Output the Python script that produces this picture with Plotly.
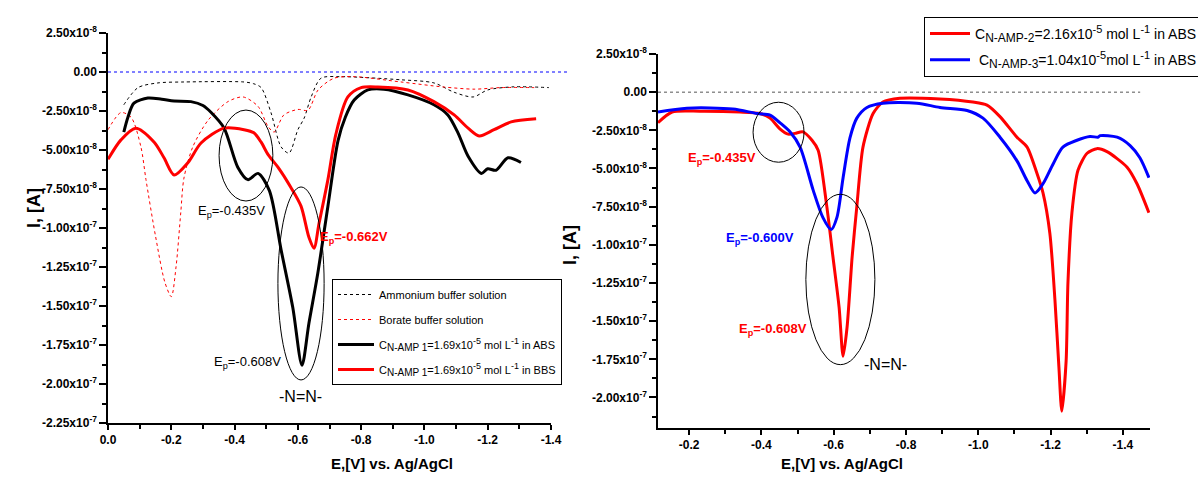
import plotly.graph_objects as go

# ---------------- Left panel data (I in units of 1e-8 A) ----------------
amm_E = [-0.05, -0.095, -0.158, -0.24, -0.43, -0.46, -0.484, -0.515, -0.547, -0.572, -0.60, -0.62,
         -0.642, -0.673, -0.736, -0.926, -1.03, -1.094, -1.154, -1.2, -1.283, -1.393]
amm_I = [-2.1, -1.0, -0.7, -0.64, -0.64, -0.75, -1.0, -2.6, -4.8, -5.2, -3.7, -2.95,
         -1.6, -0.4, -0.3, -0.5, -0.7, -1.3, -1.6, -1.15, -0.95, -1.0]

bor_E = [0.0, -0.041, -0.073, -0.104, -0.12, -0.15, -0.18, -0.20, -0.215, -0.23, -0.24, -0.268, -0.316,
         -0.379, -0.427, -0.474, -0.506, -0.525, -0.556, -0.60, -0.632, -0.664, -0.714, -0.778,
         -0.926, -1.06, -1.157, -1.24, -1.347]
bor_I = [-3.7, -2.6, -2.9, -4.8, -6.9, -10.5, -13.5, -14.4, -12.5, -9.0, -6.8, -4.8, -3.1,
         -1.9, -1.6, -2.2, -3.5, -3.85, -2.75, -2.4, -2.45, -1.15, -0.4, -0.3,
         -0.64, -0.96, -1.1, -1.0, -1.0]

abs1_E = [-0.05, -0.063, -0.082, -0.126, -0.17, -0.209, -0.262, -0.30, -0.326, -0.367, -0.41, -0.442,
          -0.474, -0.51, -0.547, -0.584, -0.613, -0.635, -0.663, -0.695, -0.727, -0.75, -0.778,
          -0.821, -0.872, -0.948, -1.03, -1.074, -1.106, -1.138, -1.18, -1.20, -1.226, -1.264, -1.305]
abs1_I = [-3.85, -2.9, -2.0, -1.67, -1.75, -1.86, -1.9, -2.15, -2.6, -3.6, -6.1, -6.9,
          -6.5, -7.6, -11.4, -15.1, -18.8, -16.1, -12.9, -8.6, -4.4, -2.9, -1.8,
          -1.15, -1.1, -1.47, -2.1, -2.75, -3.9, -5.4, -6.5, -6.2, -6.3, -5.5, -5.8]

bbs1_E = [0.0, -0.041, -0.088, -0.146, -0.177, -0.209, -0.253, -0.294, -0.367, -0.43, -0.461, -0.484,
          -0.506, -0.537, -0.578, -0.61, -0.635, -0.651, -0.667, -0.695, -0.72, -0.758, -0.80,
          -0.853, -0.948, -1.03, -1.094, -1.138, -1.173, -1.22, -1.274, -1.353]
bbs1_I = [-5.6, -4.35, -3.6, -4.5, -5.5, -6.6, -5.8, -4.55, -3.6, -3.7, -3.9, -4.5,
          -5.3, -6.1, -7.4, -8.6, -10.6, -11.3, -9.7, -6.9, -4.0, -1.6, -1.0,
          -0.96, -1.15, -1.9, -2.75, -3.6, -4.1, -3.7, -3.2, -3.0]

# ---------------- Right panel data (I in units of 1e-8 A) ----------------
amp2_E = [-0.114, -0.153, -0.23, -0.341, -0.396, -0.424, -0.451, -0.474, -0.493, -0.515, -0.54, -0.557,
          -0.581, -0.598, -0.615, -0.626, -0.637, -0.651, -0.664, -0.681, -0.709, -0.736, -0.783,
          -0.894, -0.985, -1.024, -1.06, -1.107, -1.135, -1.162, -1.179, -1.198, -1.212, -1.223,
          -1.231, -1.243, -1.248, -1.259, -1.276, -1.301, -1.328, -1.356, -1.411, -1.439, -1.472]
amp2_I = [-2.0, -1.3, -1.25, -1.3, -1.4, -1.7, -2.4, -2.75, -2.7, -2.6, -3.15, -3.8,
          -7.5, -10.8, -14.1, -17.3, -15.4, -10.8, -7.5, -3.6, -1.4, -0.65, -0.4,
          -0.45, -0.65, -0.85, -1.6, -2.95, -3.6, -5.3, -6.6, -9.25, -13.6, -18.0,
          -20.9, -17.6, -12.5, -7.9, -5.1, -4.0, -3.7, -3.9, -4.9, -6.0, -7.9]

amp3_E = [-0.114, -0.194, -0.321, -0.388, -0.424, -0.451, -0.479, -0.507, -0.543, -0.57, -0.593,
          -0.609, -0.626, -0.645, -0.664, -0.692, -0.736, -0.83, -0.894, -0.969, -1.013, -1.06,
          -1.107, -1.135, -1.157, -1.179, -1.207, -1.234, -1.273, -1.309, -1.331, -1.337, -1.384,
          -1.42, -1.447, -1.472]
amp3_I = [-1.3, -1.05, -1.1, -1.4, -1.5, -2.0, -2.6, -3.6, -6.4, -8.2, -9.0,
          -8.2, -5.6, -3.0, -1.7, -1.0, -0.72, -0.72, -1.0, -1.2, -1.7, -2.95,
          -4.5, -5.8, -6.6, -6.0, -4.7, -3.6, -3.15, -2.9, -2.95, -2.85, -2.95,
          -3.5, -4.3, -5.6]

SCALE = 1e-8

# tick labels
x_left_ticks = [0.0, -0.2, -0.4, -0.6, -0.8, -1.0, -1.2, -1.4]
x_left_text = ["0.0", "-0.2", "-0.4", "-0.6", "-0.8", "-1.0", "-1.2", "-1.4"]
x_right_ticks = [-0.2, -0.4, -0.6, -0.8, -1.0, -1.2, -1.4]
x_right_text = ["-0.2", "-0.4", "-0.6", "-0.8", "-1.0", "-1.2", "-1.4"]
y_ticks = [2.5e-8, 0.0, -2.5e-8, -5.0e-8, -7.5e-8, -1.0e-7, -1.25e-7, -1.5e-7, -1.75e-7, -2.0e-7, -2.25e-7]
y_text = ["2.50x10<sup>-8</sup>", "0.00", "-2.50x10<sup>-8</sup>", "-5.00x10<sup>-8</sup>",
          "-7.50x10<sup>-8</sup>", "-1.00x10<sup>-7</sup>", "-1.25x10<sup>-7</sup>",
          "-1.50x10<sup>-7</sup>", "-1.75x10<sup>-7</sup>", "-2.00x10<sup>-7</sup>", "-2.25x10<sup>-7</sup>"]

FONT = "Arial, 'Liberation Sans', sans-serif"
W, H = 1198, 483


def big_sub(t, px):
    return "<sub><span style='font-size:%dpx'>%s</span></sub>" % (px, t)


def big_sup(t, px):
    return "<sup><span style='font-size:%dpx'>%s</span></sup>" % (px, t)


name_abs1 = "C" + big_sub("N-AMP 1", 10) + "=1.69x10" + big_sup("-5", 9) + " mol L" + big_sup("-1", 9) + " in ABS"
name_bbs1 = "C" + big_sub("N-AMP 1", 10) + "=1.69x10" + big_sup("-5", 9) + " mol L" + big_sup("-1", 9) + " in BBS"
name_amp2 = "C" + big_sub("N-AMP-2", 12) + "=2.16x10" + big_sup("-5", 11) + " mol L" + big_sup("-1", 11) + " in ABS"
name_amp3 = " C" + big_sub("N-AMP-3", 12) + "=1.04x10" + big_sup("-5", 11) + "mol L" + big_sup("-1", 11) + " in ABS"

fig = go.Figure()


def sc(v):
    return [a * SCALE for a in v]


fig.add_trace(go.Scatter(x=amm_E, y=sc(amm_I), mode="lines", name="Ammonium buffer solution",
                         line=dict(color="black", width=1, dash="dot", shape="spline", smoothing=0.8),
                         xaxis="x", yaxis="y", legend="legend", legendgroup="a"))
fig.add_trace(go.Scatter(x=bor_E, y=sc(bor_I), mode="lines", name="Borate buffer solution",
                         line=dict(color="red", width=1, dash="dot", shape="spline", smoothing=0.8),
                         xaxis="x", yaxis="y", legend="legend", legendgroup="b"))
fig.add_trace(go.Scatter(x=abs1_E, y=sc(abs1_I), mode="lines", name=name_abs1,
                         line=dict(color="black", width=3, shape="spline", smoothing=0.8),
                         xaxis="x", yaxis="y", legend="legend", legendgroup="c"))
fig.add_trace(go.Scatter(x=bbs1_E, y=sc(bbs1_I), mode="lines", name=name_bbs1,
                         line=dict(color="red", width=3, shape="spline", smoothing=0.8),
                         xaxis="x", yaxis="y", legend="legend", legendgroup="d"))

fig.add_trace(go.Scatter(x=amp2_E, y=sc(amp2_I), mode="lines", name=name_amp2,
                         line=dict(color="red", width=3, shape="spline", smoothing=0.7),
                         xaxis="x2", yaxis="y2", legend="legend2", legendgroup="e"))
fig.add_trace(go.Scatter(x=amp3_E, y=sc(amp3_I), mode="lines", name=name_amp3,
                         line=dict(color="blue", width=3, shape="spline", smoothing=0.8),
                         xaxis="x2", yaxis="y2", legend="legend2", legendgroup="f"))

axis_common = dict(showgrid=False, zeroline=False, showline=True, linecolor="black", linewidth=1.5,
                   ticks="outside", tickcolor="black", tickwidth=1.5,
                   tickfont=dict(family=FONT, size=12, color="black", weight="bold"))
minor_x = dict(tickmode="linear", tick0=0, dtick=0.1, ticks="outside", ticklen=4,
               tickcolor="black", tickwidth=1.5)
minor_y = dict(tickmode="linear", tick0=0, dtick=1.25e-8, ticks="outside", ticklen=4,
               tickcolor="black", tickwidth=1.5)

fig.update_layout(
    width=W, height=H, margin=dict(l=0, r=0, t=0, b=0, autoexpand=False),
    paper_bgcolor="white", plot_bgcolor="white", showlegend=True,
    xaxis=dict(domain=[108 / W, 551 / W], range=[0, -1.4], anchor="y",
               tickmode="array", tickvals=x_left_ticks, ticktext=x_left_text, ticklen=5,
               minor=minor_x, **axis_common),
    yaxis=dict(domain=[1 - 423 / H, 1 - 33 / H], range=[-2.25e-7, 2.5e-8], anchor="x",
               tickmode="array", tickvals=y_ticks, ticktext=y_text, ticklen=7,
               minor=minor_y, **axis_common),
    xaxis2=dict(domain=[658 / W, 1150 / W], range=[-0.114, -1.475], anchor="y2",
                tickmode="array", tickvals=x_right_ticks, ticktext=x_right_text, ticklen=5,
                minor=minor_x, **axis_common),
    yaxis2=dict(domain=[1 - 428 / H, 1 - 54 / H], range=[-2.2e-7, 2.5e-8], anchor="x2",
                tickmode="array", tickvals=y_ticks[:-1], ticktext=y_text[:-1], ticklen=7,
                minor=minor_y, **axis_common),
    legend=dict(x=332 / W, y=1 - 279 / H, xanchor="left", yanchor="top",
                bordercolor="black", borderwidth=1, bgcolor="white",
                font=dict(family=FONT, size=11, color="black"),
                tracegroupgap=6, itemwidth=36),
    legend2=dict(x=924 / W, y=1 - 17 / H, xanchor="left", yanchor="top",
                 bordercolor="black", borderwidth=1, bgcolor="white",
                 font=dict(family=FONT, size=14, color="black"),
                 tracegroupgap=5, itemwidth=40),
)

# zero lines
fig.add_shape(type="line", xref="x domain", yref="y", x0=0, x1=1.04, y0=0, y1=0,
              line=dict(color="blue", width=1, dash="dot"))
fig.add_shape(type="line", xref="x2 domain", yref="y2", x0=0, x1=0.98, y0=0, y1=0,
              line=dict(color="#555555", width=1, dash="dot"))

# ellipses (left)
fig.add_shape(type="circle", xref="x", yref="y", x0=-0.351, x1=-0.521, y0=-2.44e-8, y1=-8.27e-8,
              line=dict(color="black", width=1))
fig.add_shape(type="circle", xref="x", yref="y", x0=-0.537, x1=-0.683, y0=-7.37e-8, y1=-19.74e-8,
              line=dict(color="black", width=1))
# ellipses (right)
fig.add_shape(type="circle", xref="x2", yref="y2", x0=-0.377, x1=-0.518, y0=-0.66e-8, y1=-4.59e-8,
              line=dict(color="black", width=1))
fig.add_shape(type="circle", xref="x2", yref="y2", x0=-0.523, x1=-0.714, y0=-6.69e-8, y1=-17.85e-8,
              line=dict(color="black", width=1))


def ann(text, x, y, xref, yref, color="black", size=12, bold=False, angle=0):
    fig.add_annotation(text=text, x=x, y=y, xref=xref, yref=yref, showarrow=False,
                       textangle=angle,
                       font=dict(family=FONT, size=size, color=color, weight="bold" if bold else "normal"))


# left annotations
ann("E<sub>p</sub>=-0.435V", -0.389, -8.97e-8, "x", "y", size=13)
ann("E<sub>p</sub>=-0.608V", -0.442, -18.65e-8, "x", "y", size=13)
ann("-N=N-", -0.607, -20.8e-8, "x", "y", size=16)
ann("E<sub>p</sub>=-0.662V", -0.777, -10.6e-8, "x", "y", color="red", size=13, bold=True)
# right annotations
ann("E<sub>p</sub>=-0.435V", -0.291, -4.33e-8, "x2", "y2", color="red", size=13, bold=True)
ann("E<sub>p</sub>=-0.600V", -0.396, -9.58e-8, "x2", "y2", color="blue", size=13, bold=True)
ann("E<sub>p</sub>=-0.608V", -0.432, -15.55e-8, "x2", "y2", color="red", size=13, bold=True)
ann("-N=N-", -0.742, -17.85e-8, "x2", "y2", size=16)

# axis titles
ann("I, [A]", 22 / W, 1 - 208 / H, "paper", "paper", size=18, bold=True, angle=-90)
ann("I, [A]", 570 / W, 1 - 245 / H, "paper", "paper", size=18, bold=True, angle=-90)
ann("E,[V] vs. Ag/AgCl", 329 / W, 1 - 474 / H, "paper", "paper", size=15, bold=True)
ann("E,[V] vs. Ag/AgCl", 905 / W, 1 - 474 / H, "paper", "paper", size=15, bold=True)

fig.write_html("out.html")
